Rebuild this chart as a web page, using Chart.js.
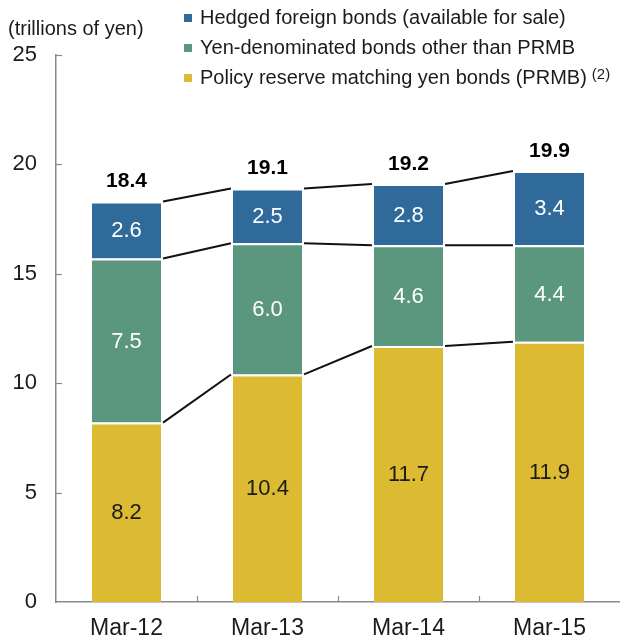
<!DOCTYPE html>
<html>
<head>
<meta charset="utf-8">
<script src="https://cdn.jsdelivr.net/npm/chart.js@4/dist/chart.umd.min.js"></script>
<style>
html, body { margin: 0; padding: 0; background: #fff; }
#wrap { width: 620px; height: 639px; }
</style>
</head>
<body>
<div id="wrap"><canvas id="bondsChart" width="620" height="639"></canvas></div>
<script>
// data
var categories = ["Mar-12", "Mar-13", "Mar-14", "Mar-15"];
var prmb = [8.2, 10.4, 11.7, 11.9];
var yenOther = [7.5, 6.0, 4.6, 4.4];
var hedged = [2.6, 2.5, 2.8, 3.4];
var totals = [18.4, 19.1, 19.2, 19.9];
var yTicks = [0, 5, 10, 15, 20, 25];
var seriesNames = [
    "Policy reserve matching yen bonds (PRMB)",
    "Yen-denominated bonds other than PRMB",
    "Hedged foreign bonds (available for sale)"
];
var unitLabel = "(trillions of yen)";
var noteMark = "(2)";

var FONT = "'Liberation Sans', Arial, sans-serif";
var YELLOW = "#DCBA32";
var GREEN = "#5B977F";
var BLUE = "#2F6A9B";
var AXIS = "#8a8a8a";

var ctx = document.getElementById("bondsChart").getContext("2d");

function barSet(label, values, color) {
    return {
        label: label,
        data: values,
        backgroundColor: color,
        borderColor: "#ffffff",
        borderWidth: { top: 2, left: 0, right: 0, bottom: 0 },
        borderSkipped: false,
        categoryPercentage: 1.0,
        barPercentage: 0.49,
    };
}

var overlay = {
    id: "overlay",
    beforeDatasetsDraw: function (chart) {
        // connector lines between the segment tops of neighbouring bars
        var c = chart.ctx;
        c.save();
        c.strokeStyle = "#111111";
        c.lineWidth = 2;
        for (var s = 0; s < 3; s++) {
            var els = chart.getDatasetMeta(s).data;
            for (var i = 0; i < els.length - 1; i++) {
                var a = els[i], b = els[i + 1];
                c.beginPath();
                c.moveTo(a.x + a.width / 2 + 2, a.y);
                c.lineTo(b.x - b.width / 2 - 2, b.y);
                c.stroke();
            }
        }
        c.restore();
    },
    afterDraw: function (chart) {
        var c = chart.ctx;
        var area = chart.chartArea;
        var ys = chart.scales.y, xs = chart.scales.x;
        c.save();

        // inward tick marks
        c.strokeStyle = AXIS;
        c.lineWidth = 1.2;
        yTicks.forEach(function (v) {
            if (v === 0) return;
            var py = Math.round(ys.getPixelForValue(v)) + 0.5;
            c.beginPath();
            c.moveTo(area.left, py);
            c.lineTo(area.left + 6, py);
            c.stroke();
        });
        for (var i = 1; i < categories.length; i++) {
            var px = Math.round((xs.getPixelForValue(i - 1) + xs.getPixelForValue(i)) / 2) + 0.5;
            c.beginPath();
            c.moveTo(px, area.bottom);
            c.lineTo(px, area.bottom - 6);
            c.stroke();
        }

        // segment values
        c.textAlign = "center";
        c.textBaseline = "middle";
        c.font = "22px " + FONT;
        var valueSets = [prmb, yenOther, hedged];
        var valueColors = ["#1b1b1b", "#ffffff", "#ffffff"];
        for (var s = 0; s < 3; s++) {
            var els = chart.getDatasetMeta(s).data;
            c.fillStyle = valueColors[s];
            els.forEach(function (el, k) {
                c.fillText(valueSets[s][k].toFixed(1), el.x, (el.y + el.base) / 2 + 1);
            });
        }

        // totals above bars
        c.font = "bold 21px " + FONT;
        c.fillStyle = "#000000";
        chart.getDatasetMeta(2).data.forEach(function (el, k) {
            c.fillText(totals[k].toFixed(1), el.x, el.y - 20);
        });

        // unit label
        c.textAlign = "left";
        c.font = "20px " + FONT;
        c.fillStyle = "#1b1b1b";
        c.fillText(unitLabel, 8, 29);

        // legend, top series first
        var legendColors = [BLUE, GREEN, YELLOW];
        var legendNames = [seriesNames[2], seriesNames[1], seriesNames[0]];
        for (var r = 0; r < 3; r++) {
            var cy = 18 + r * 30;
            c.fillStyle = legendColors[r];
            c.fillRect(184, cy - 4, 8, 8);
            c.fillStyle = "#1b1b1b";
            c.font = "20px " + FONT;
            c.fillText(legendNames[r], 200, cy);
            if (r === 2) {
                var w = c.measureText(legendNames[r]).width;
                c.font = "15px " + FONT;
                c.fillText(noteMark, 200 + w + 5, cy - 3);
            }
        }
        c.restore();
    },
};

var myChart = new Chart(ctx, {
    type: "bar",
    data: {
        labels: categories,
        datasets: [
            barSet(seriesNames[0], prmb, YELLOW),
            barSet(seriesNames[1], yenOther, GREEN),
            barSet(seriesNames[2], hedged, BLUE),
        ],
    },
    options: {
        responsive: false,
        animation: false,
        devicePixelRatio: 1,
        layout: { padding: { top: 55, right: 0, left: 0, bottom: 0 } },
        plugins: {
            legend: { display: false },
            tooltip: { enabled: false },
        },
        scales: {
            x: {
                stacked: true,
                grid: { display: false, drawTicks: false },
                border: { display: true, color: AXIS, width: 1.5 },
                ticks: {
                    color: "#1b1b1b",
                    font: { size: 23, family: FONT },
                    padding: 13,
                    maxRotation: 0,
                },
                afterFit: function (scale) { scale.height = 37; },
            },
            y: {
                stacked: true,
                min: 0,
                max: 25,
                grid: { display: false, drawTicks: false },
                border: { display: true, color: AXIS, width: 1.5 },
                ticks: {
                    stepSize: 5,
                    color: "#1b1b1b",
                    font: { size: 22, family: FONT },
                    padding: 19,
                },
                afterFit: function (scale) { scale.width = 56; },
            },
        },
    },
    plugins: [overlay],
});
</script>
</body>
</html>
